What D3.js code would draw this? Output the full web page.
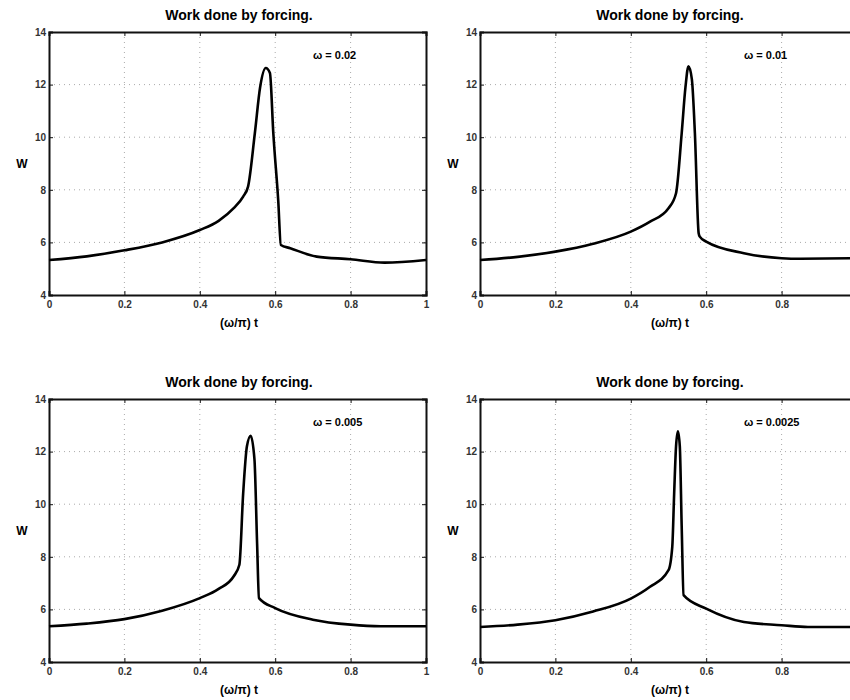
<!DOCTYPE html>
<html>
<head>
<meta charset="utf-8">
<script src="https://cdn.jsdelivr.net/npm/d3@7"></script>
<style>
  body { margin: 0; background: #fff; }
  text { font-family: "Liberation Sans", Arial, sans-serif; }
</style>
</head>
<body>
<div id="chart"></div>
<script>
// Data
var omegaLabels = ["ω = 0.02", "ω = 0.01", "ω = 0.005", "ω = 0.0025"];

var t1 = [0, 0.1, 0.2, 0.3, 0.4, 0.45, 0.49, 0.515, 0.528, 0.546, 0.56, 0.575, 0.586, 0.595, 0.608, 0.615, 0.64, 0.71, 0.8, 0.89, 1];
var w1 = [5.33, 5.47, 5.7, 6.0, 6.47, 6.82, 7.3, 7.74, 8.12, 10.15, 11.9, 12.63, 12.44, 10.15, 7.6, 5.9, 5.78, 5.46, 5.36, 5.23, 5.33];

var t2 = [0, 0.1, 0.2, 0.3, 0.4, 0.45, 0.5, 0.52, 0.535, 0.545, 0.553, 0.562, 0.57, 0.58, 0.583, 0.6, 0.7, 0.8, 0.85, 1];
var w2 = [5.33, 5.45, 5.65, 5.95, 6.41, 6.78, 7.3, 7.87, 10.15, 11.9, 12.7, 12.2, 10.15, 6.35, 6.22, 6.03, 5.59, 5.4, 5.38, 5.4];

var t3 = [0, 0.1, 0.2, 0.3, 0.4, 0.45, 0.49, 0.505, 0.515, 0.525, 0.535, 0.545, 0.552, 0.557, 0.6, 0.7, 0.8, 0.88, 1];
var w3 = [5.36, 5.46, 5.63, 5.95, 6.43, 6.78, 7.26, 7.7, 10.4, 12.2, 12.6, 11.7, 8.5, 6.43, 6.05, 5.61, 5.42, 5.36, 5.36];

var t4 = [0, 0.1, 0.2, 0.3, 0.4, 0.45, 0.5, 0.51, 0.515, 0.52, 0.525, 0.53, 0.535, 0.54, 0.6, 0.7, 0.8, 0.87, 1];
var w4 = [5.33, 5.42, 5.59, 5.92, 6.41, 6.85, 7.49, 8.38, 10.4, 12.2, 12.77, 12.2, 9.15, 6.54, 6.03, 5.52, 5.4, 5.33, 5.33];

var xTicks = [0, 0.2, 0.4, 0.6, 0.8, 1];
var yTicks = [4, 6, 8, 10, 12, 14];

var svgWidth = 850;
var svgHeight = 700;

var svg = d3.select("#chart")
  .append("svg")
  .attr("width", svgWidth)
  .attr("height", svgHeight);

// panel boxes (left, top, width, height); right column runs past the page edge
var panels = [
  { x: 49, y: 32, w: 377, h: 263, t: t1, w_: w1, cut: false },
  { x: 480, y: 32, w: 377, h: 263, t: t2, w_: w2, cut: true },
  { x: 49, y: 399, w: 377, h: 263, t: t3, w_: w3, cut: false },
  { x: 480, y: 399, w: 377, h: 263, t: t4, w_: w4, cut: true }
];

panels.forEach(function(p, i) {
  var g = svg.append("g").attr("transform", `translate(${p.x}, ${p.y})`);

  var xScale = d3.scaleLinear().domain([0, 1]).range([0, p.w]);
  var yScale = d3.scaleLinear().domain([4, 14]).range([p.h, 0]);

  // grid
  g.selectAll(".vgrid").data(xTicks.slice(1, -1)).enter()
    .append("line")
    .attr("x1", d => xScale(d)).attr("x2", d => xScale(d))
    .attr("y1", 0).attr("y2", p.h)
    .attr("stroke", "#aaa").attr("stroke-width", 1)
    .attr("stroke-dasharray", "1,4");
  g.selectAll(".hgrid").data(yTicks.slice(1, -1)).enter()
    .append("line")
    .attr("x1", 0).attr("x2", p.w)
    .attr("y1", d => yScale(d)).attr("y2", d => yScale(d))
    .attr("stroke", "#aaa").attr("stroke-width", 1)
    .attr("stroke-dasharray", "1,4");

  // axes
  var fmt = d3.format("~g");
  var bottomAxis = d3.axisBottom(xScale).tickValues(xTicks)
    .tickSize(-4).tickPadding(6)
    .tickFormat(d => (p.cut && d === 1) ? "" : fmt(d));
  var leftAxis = d3.axisLeft(yScale).tickValues(yTicks)
    .tickSize(-4).tickPadding(3);
  var topAxis = d3.axisTop(xScale).tickValues(xTicks).tickSize(-4).tickFormat("");
  var rightAxis = d3.axisRight(yScale).tickValues(yTicks).tickSize(-4).tickFormat("");

  [
    g.append("g").attr("transform", `translate(0, ${p.h})`).call(bottomAxis),
    g.append("g").call(leftAxis),
    g.append("g").call(topAxis),
    g.append("g").attr("transform", `translate(${p.w}, 0)`).call(rightAxis)
  ].forEach(function(a) {
    a.select(".domain").attr("stroke", "#111").attr("stroke-width", 2);
    a.selectAll(".tick line").attr("stroke", "#111");
    a.selectAll("text").attr("font-size", "10px").attr("font-weight", "bold").attr("fill", "#333");
  });

  // curve
  var data = p.t.map((d, j) => ({ t: d, w: p.w_[j] }));
  var line = d3.line()
    .x(d => xScale(d.t))
    .y(d => yScale(d.w))
    .curve(d3.curveMonotoneX);
  g.append("path")
    .datum(data)
    .attr("d", line)
    .attr("fill", "none")
    .attr("stroke", "#000")
    .attr("stroke-width", 2.6)
    .attr("stroke-linejoin", "round");

  // labels
  g.append("text")
    .attr("x", 190).attr("y", -12)
    .attr("text-anchor", "middle")
    .attr("font-size", "14px").attr("font-weight", "bold")
    .text("Work done by forcing.");
  g.append("text")
    .attr("x", -27).attr("y", p.h / 2 + 4)
    .attr("text-anchor", "middle")
    .attr("font-size", "12px").attr("font-weight", "bold")
    .text("W");
  g.append("text")
    .attr("x", 190).attr("y", p.h + 32)
    .attr("text-anchor", "middle")
    .attr("font-size", "12px").attr("font-weight", "bold")
    .text("(ω/π) t");
  g.append("text")
    .attr("x", 264).attr("y", 27)
    .attr("font-size", "11px").attr("font-weight", "bold")
    .text(omegaLabels[i]);
});
</script>
</body>
</html>
